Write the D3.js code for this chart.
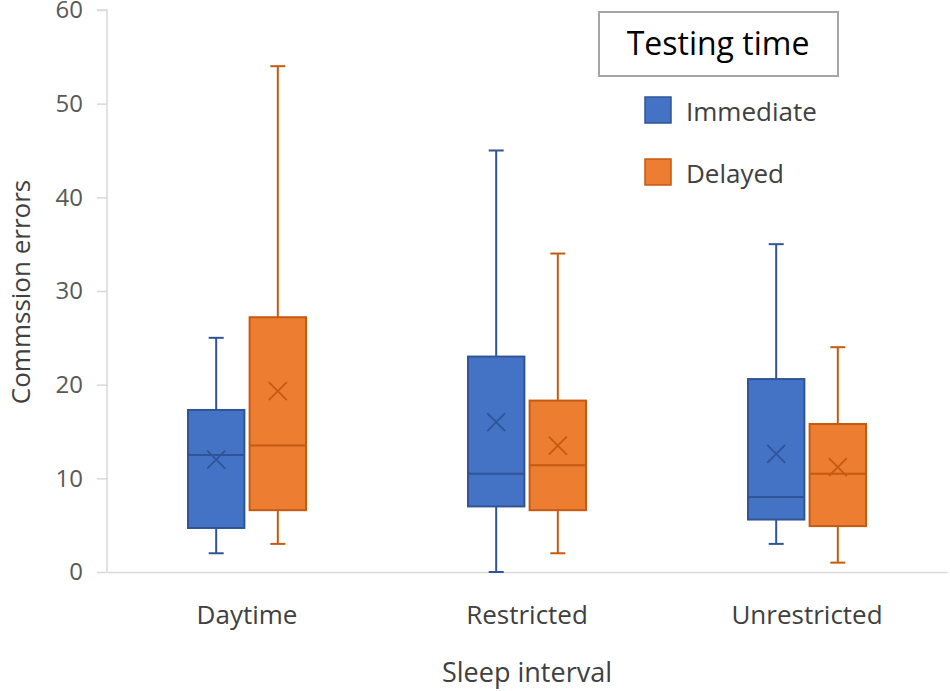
<!DOCTYPE html>
<html><head><meta charset="utf-8">
<script src="https://cdn.jsdelivr.net/npm/d3@7"></script>
<style>
body{margin:0;background:#fff;}
text{font-family:"Open Sans","Noto Sans",sans-serif;}
</style></head>
<body><svg id="c" width="950" height="691"></svg>
<script>
const categories = ["Daytime","Restricted","Unrestricted"];
const seriesNames = ["Immediate","Delayed"];
const yTicks = [0,10,20,30,40,50,60];
// [min, q1, median, q3, max, mean]
const immediate = [
  [2, 4.7, 12.5, 17.3, 25, 12.0],
  [0, 7.0, 10.5, 23.0, 45, 16.0],
  [3, 5.6, 8.0, 20.6, 35, 12.6]
];
const delayed = [
  [3, 6.6, 13.5, 27.2, 54, 19.3],
  [2, 6.6, 11.4, 18.3, 34, 13.5],
  [1, 4.9, 10.5, 15.8, 24, 11.2]
];
const fills = ["#4472C4","#ED7D31"];
const strokes = ["#2F5597","#C55A11"];

const svg = d3.select("#c");
const mL = 107, mR = 947, mT = 10, mB = 572;
const x = d3.scaleBand().domain(categories).range([mL, mR]);
const sub = d3.scaleBand().domain(seriesNames).range([-59, 59]).paddingInner(0.085);
const y = d3.scaleLinear().domain([0,60]).range([mB, mT]);

const yAxis = svg.append("g").attr("transform",`translate(${mL},0)`)
  .call(d3.axisLeft(y).tickValues(yTicks).tickSize(10).tickPadding(14).tickFormat(d3.format("d")));
yAxis.select(".domain").attr("stroke","#d9d9d9").attr("stroke-width",1.5).attr("d",`M-10,${mT}H0V${mB}`);
yAxis.selectAll(".tick line").attr("stroke","#d9d9d9").attr("stroke-width",1.5);
yAxis.selectAll(".tick text").attr("fill","#595959").style("font-size","24px");

const xAxis = svg.append("g").attr("transform",`translate(0,${mB})`)
  .call(d3.axisBottom(x).tickSize(0).tickPadding(34));
xAxis.select(".domain").attr("stroke","#d9d9d9").attr("stroke-width",1.5);
xAxis.selectAll(".tick text").attr("fill","#404040").style("font-size","26px");

const all = [immediate, delayed];
all.forEach((data, si) => {
  const g = svg.append("g");
  data.forEach((d, ci) => {
    const [mn, q1, md, q3, mx, mean] = d;
    const x0 = x(categories[ci]) + x.bandwidth()/2 + sub(seriesNames[si]);
    const w = sub.bandwidth();
    const cx = x0 + w/2;
    const st = strokes[si];
    g.append("line").attr("x1",cx).attr("x2",cx).attr("y1",y(mx)).attr("y2",y(q3)).attr("stroke",st).attr("stroke-width",2);
    g.append("line").attr("x1",cx).attr("x2",cx).attr("y1",y(q1)).attr("y2",y(mn)).attr("stroke",st).attr("stroke-width",2);
    [mx, mn].forEach(v => g.append("line").attr("x1",cx-7.5).attr("x2",cx+7.5).attr("y1",y(v)).attr("y2",y(v)).attr("stroke",st).attr("stroke-width",2));
    g.append("rect").attr("x",x0).attr("y",y(q3)).attr("width",w).attr("height",y(q1)-y(q3))
      .attr("fill",fills[si]).attr("stroke",st).attr("stroke-width",2);
    g.append("line").attr("x1",x0).attr("x2",x0+w).attr("y1",y(md)).attr("y2",y(md)).attr("stroke",st).attr("stroke-width",2);
    const s = 9, my = y(mean);
    g.append("path").attr("d",`M${cx-s},${my-s}L${cx+s},${my+s}M${cx-s},${my+s}L${cx+s},${my-s}`)
      .attr("stroke",st).attr("stroke-width",1.8).attr("fill","none");
  });
});

svg.append("text").attr("x",527).attr("y",682).attr("text-anchor","middle")
  .attr("fill","#404040").style("font-size","27px").text("Sleep interval");
svg.append("text").attr("transform","translate(30,292) rotate(-90)").attr("text-anchor","middle")
  .attr("fill","#404040").style("font-size","26px").text("Commssion errors");

const lg = svg.append("g");
lg.append("rect").attr("x",599).attr("y",12).attr("width",239).attr("height",64)
  .attr("fill","#fff").attr("stroke","#a6a6a6").attr("stroke-width",2);
lg.append("text").attr("x",718).attr("y",55).attr("text-anchor","middle").attr("fill","#000")
  .style("font-size","32px").text("Testing time");
seriesNames.forEach((n,i) => {
  const yy = 97 + i*62;
  lg.append("rect").attr("x",645).attr("y",yy).attr("width",26).attr("height",26)
    .attr("fill",fills[i]).attr("stroke",strokes[i]).attr("stroke-width",1.5);
  lg.append("text").attr("x",686).attr("y",yy+24).attr("fill","#404040").style("font-size","26px").text(n);
});
</script></body></html>
